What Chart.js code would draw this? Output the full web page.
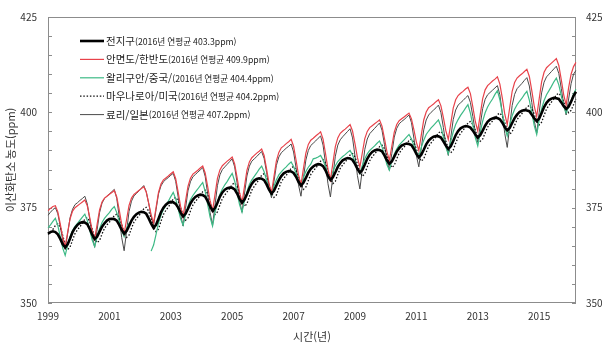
<!DOCTYPE html>
<html lang="ko">
<head>
<meta charset="utf-8">
<title>이산화탄소 농도</title>
<script src="https://cdn.jsdelivr.net/npm/chart.js"></script>
<style>
  html, body { margin: 0; padding: 0; background: #fff; }
  canvas { display: block; }
</style>
</head>
<body>
<canvas id="co2" width="605" height="348"></canvas>
<script>
// monthly means, Jan 1999 - Dec 2016 (ppm)
var globalAvg = [
  368.2, 368.6, 368.8, 368.6, 368.0, 366.8, 365.4, 364.6, 365.4, 366.9, 368.6, 369.7,
  370.5, 371.0, 371.2, 371.1, 370.7, 369.4, 367.9, 366.8, 367.4, 368.7, 370.0, 370.9,
  371.6, 372.0, 372.1, 372.0, 371.6, 370.5, 369.2, 368.2, 368.9, 370.2, 371.6, 372.6,
  373.3, 373.7, 373.9, 373.8, 373.4, 372.2, 370.8, 369.7, 370.5, 372.1, 373.8, 375.0,
  375.8, 376.3, 376.5, 376.4, 376.0, 375.0, 373.7, 372.7, 373.4, 374.7, 376.1, 377.1,
  377.8, 378.2, 378.4, 378.3, 377.9, 376.7, 375.3, 374.2, 374.9, 376.3, 377.9, 379.0,
  379.7, 380.1, 380.3, 380.2, 379.8, 378.7, 377.3, 376.3, 377.1, 378.5, 380.1, 381.3,
  382.1, 382.5, 382.7, 382.6, 382.2, 381.1, 379.7, 378.7, 379.4, 380.8, 382.2, 383.3,
  384.0, 384.4, 384.6, 384.5, 384.1, 383.1, 381.8, 380.8, 381.5, 382.8, 384.2, 385.2,
  385.8, 386.2, 386.4, 386.3, 385.9, 384.8, 383.3, 382.3, 383.0, 384.3, 385.7, 386.7,
  387.4, 387.8, 388.0, 387.9, 387.5, 386.5, 385.2, 384.2, 384.9, 386.3, 387.8, 388.9,
  389.6, 390.0, 390.2, 390.1, 389.8, 388.7, 387.4, 386.5, 387.1, 388.4, 389.7, 390.6,
  391.3, 391.6, 391.8, 391.7, 391.4, 390.4, 389.1, 388.2, 388.9, 390.2, 391.6, 392.6,
  393.2, 393.6, 393.8, 393.7, 393.4, 392.4, 391.3, 390.4, 391.1, 392.5, 394.0, 395.1,
  395.8, 396.2, 396.4, 396.3, 396.0, 395.2, 394.2, 393.4, 394.0, 395.2, 396.5, 397.5,
  398.1, 398.4, 398.6, 398.5, 398.2, 397.3, 396.1, 395.3, 395.9, 397.2, 398.5, 399.4,
  400.1, 400.4, 400.6, 400.5, 400.3, 399.4, 398.4, 397.7, 398.4, 399.8, 401.4, 402.5,
  403.2, 403.6, 403.8, 403.7, 403.5, 402.6, 401.6, 400.9, 401.5, 402.8, 404.3, 405.4
];
var anmyeon = [
  374.2, 374.8, 375.3, 375.5, 373.9, 370.7, 367.2, 364.8, 368.5, 372.1, 374.1, 375.0,
  375.5, 376.0, 376.5, 377.0, 375.5, 372.4, 369.0, 366.8, 370.6, 374.4, 376.5, 377.5,
  378.0, 378.5, 379.0, 379.5, 377.8, 374.4, 370.7, 368.2, 371.9, 375.6, 377.5, 378.5,
  379.0, 379.5, 380.0, 380.5, 379.1, 376.2, 373.1, 371.0, 375.0, 379.0, 381.2, 382.3,
  382.8, 383.3, 383.9, 384.4, 382.6, 379.1, 375.3, 372.7, 376.7, 380.6, 382.7, 383.8,
  384.3, 384.8, 385.4, 385.9, 384.1, 380.6, 376.8, 374.2, 378.4, 382.7, 384.9, 386.0,
  386.6, 387.2, 387.7, 388.3, 386.5, 382.9, 379.0, 376.3, 380.5, 384.8, 387.0, 388.1,
  388.7, 389.3, 389.8, 390.4, 388.7, 385.2, 381.4, 378.9, 383.1, 387.3, 389.5, 390.7,
  391.2, 391.8, 392.3, 392.9, 391.1, 387.5, 383.6, 381.0, 385.2, 389.3, 391.6, 392.7,
  393.2, 393.8, 394.3, 394.9, 393.0, 389.2, 385.1, 382.3, 386.7, 391.0, 393.3, 394.5,
  395.1, 395.6, 396.2, 396.8, 395.1, 391.8, 388.1, 385.7, 389.4, 393.1, 395.0, 396.0,
  396.5, 397.0, 397.5, 398.0, 396.4, 393.2, 389.7, 387.4, 391.1, 394.8, 396.8, 397.8,
  398.3, 398.8, 399.3, 399.8, 398.3, 395.4, 392.2, 390.0, 394.0, 398.0, 400.1, 401.2,
  401.7, 402.2, 402.8, 403.3, 401.7, 398.6, 395.2, 392.9, 397.0, 401.1, 403.3, 404.4,
  405.0, 405.5, 406.1, 406.6, 404.9, 401.4, 397.6, 395.1, 399.4, 403.6, 405.9, 407.0,
  407.6, 408.2, 408.7, 409.3, 407.4, 403.7, 399.5, 396.8, 401.2, 405.5, 407.8, 409.0,
  409.6, 410.1, 410.7, 411.3, 409.4, 405.7, 401.6, 398.9, 403.5, 408.0, 410.5, 411.7,
  412.3, 412.9, 413.5, 414.1, 412.3, 408.6, 404.6, 401.9, 406.5, 410.0, 412.0, 413.1
];
var waliguan = [
  369.7, 370.5, 371.4, 372.2, 370.3, 367.4, 364.4, 362.5, 365.2, 367.4, 369.0, 370.1,
  370.9, 371.7, 372.5, 373.3, 371.6, 369.1, 366.5, 364.8, 367.4, 369.5, 371.1, 372.2,
  373.0, 373.7, 374.6, 375.3, 373.7, 371.4, 369.0, 367.4, 369.5, 371.0, null, null,
  null, null, null, null, null, null, 363.6, 365.2, 368.0, 371.0, 373.0, 374.5,
  375.6, 376.7, 377.9, 379.0, 377.3, 374.7, 372.1, 370.4, 373.2, 375.4, 377.1, 378.2,
  379.1, 379.9, 380.8, 381.6, 379.3, 375.9, 372.5, 370.2, 373.7, 376.4, 378.5, 379.9,
  381.0, 381.9, 383.0, 384.0, 382.0, 378.9, 375.8, 373.8, 376.8, 379.2, 381.1, 382.3,
  383.2, 384.1, 385.1, 385.9, 384.4, 382.2, 379.9, 378.4, 380.6, 382.3, 383.6, 384.4,
  385.1, 385.7, 386.4, 387.0, 385.8, 384.0, 382.2, 381.0, 382.9, 384.5, 385.6, 386.4,
  387.8, 388.0, 388.3, 388.7, 387.5, 385.7, 383.9, 382.7, 384.5, 386.0, 387.1, 387.8,
  388.4, 388.9, 389.5, 390.0, 388.8, 387.0, 385.2, 384.0, 386.1, 387.8, 389.1, 390.0,
  390.6, 391.2, 391.9, 392.5, 391.0, 388.7, 386.3, 384.8, 387.2, 389.0, 390.4, 391.4,
  392.1, 392.8, 393.5, 394.2, 393.0, 391.3, 389.6, 388.4, 390.8, 392.7, 394.2, 395.1,
  395.9, 396.6, 397.3, 398.0, 396.2, 393.6, 390.9, 389.1, 392.3, 394.9, 396.8, 398.1,
  399.2, 400.1, 401.1, 402.0, 399.8, 396.6, 393.4, 391.2, 394.8, 397.7, 399.9, 401.4,
  402.5, 403.5, 404.7, 405.7, 403.3, 399.8, 396.2, 393.8, 396.7, 399.1, 400.8, 402.0,
  402.9, 403.7, 404.7, 405.5, 403.2, 399.9, 396.5, 394.2, 397.9, 400.9, 403.1, 404.6,
  405.7, 406.8, 408.0, 409.0, 407.2, 404.4, 401.6, 399.8, 401.5, 403.0, 404.8, 406.1
];
var maunaLoa = [
  368.0, 368.6, 369.3, 370.3, 370.8, 369.8, 367.7, 365.4, 364.0, 364.7, 366.5, 368.2,
  369.2, 370.0, 370.9, 372.0, 372.4, 371.4, 369.4, 367.1, 365.8, 366.4, 368.1, 369.6,
  370.5, 371.2, 372.0, 372.9, 373.3, 372.4, 370.6, 368.4, 367.2, 367.8, 369.6, 371.2,
  372.1, 372.9, 373.7, 374.7, 375.1, 374.1, 372.2, 370.0, 368.7, 369.4, 371.4, 373.2,
  374.3, 375.2, 376.1, 377.3, 377.7, 376.8, 375.0, 372.9, 371.7, 372.3, 374.1, 375.7,
  376.6, 377.4, 378.2, 379.2, 379.6, 378.6, 376.7, 374.5, 373.2, 373.9, 375.7, 377.4,
  378.3, 379.2, 380.0, 381.1, 381.5, 380.6, 378.7, 376.5, 375.3, 376.0, 377.9, 379.6,
  380.6, 381.5, 382.4, 383.5, 383.9, 383.0, 381.1, 378.9, 377.7, 378.3, 380.1, 381.8,
  382.7, 383.5, 384.3, 385.4, 385.8, 384.9, 383.1, 381.0, 379.8, 380.4, 382.1, 383.7,
  384.6, 385.4, 386.2, 387.2, 387.6, 386.7, 384.8, 382.6, 381.3, 381.9, 383.7, 385.3,
  386.2, 387.0, 387.8, 388.8, 389.2, 388.3, 386.5, 384.4, 383.2, 383.9, 385.7, 387.3,
  388.3, 389.1, 389.9, 391.0, 391.4, 390.5, 388.7, 386.7, 385.5, 386.1, 387.8, 389.3,
  390.2, 390.9, 391.7, 392.6, 393.0, 392.1, 390.4, 388.4, 387.2, 387.8, 389.5, 391.1,
  392.0, 392.8, 393.6, 394.6, 395.0, 394.2, 392.5, 390.5, 389.4, 390.1, 391.9, 393.5,
  394.5, 395.3, 396.1, 397.2, 397.6, 396.8, 395.3, 393.4, 392.4, 393.0, 394.6, 396.1,
  397.0, 397.7, 398.5, 399.4, 399.8, 399.0, 397.3, 395.4, 394.3, 394.9, 396.6, 398.1,
  398.9, 399.7, 400.5, 401.4, 401.8, 401.0, 399.5, 397.7, 396.7, 397.4, 399.2, 400.9,
  401.8, 402.7, 403.5, 404.6, 405.0, 404.2, 402.7, 400.9, 399.9, 400.5, 402.0, 403.5
];
var ryori = [
  373.0, 373.8, 374.5, 375.0, 373.4, 370.1, 366.4, 364.0, 368.2, 372.4, 374.6, 375.8,
  376.3, 376.9, 377.4, 378.0, 376.0, 372.0, 367.5, 364.6, 369.2, 373.7, 376.2, 377.4,
  378.0, 378.6, 379.2, 379.8, 377.4, 372.6, 367.2, 363.7, 368.8, 374.0, 376.7, 378.1,
  378.7, 379.4, 380.1, 380.8, 379.2, 376.1, 372.7, 370.4, 374.5, 378.6, 380.7, 381.8,
  382.4, 382.9, 383.5, 384.0, 381.9, 377.8, 373.2, 370.2, 374.8, 379.4, 381.8, 383.1,
  383.7, 384.3, 384.9, 385.5, 383.2, 378.7, 373.7, 370.4, 375.6, 380.8, 383.6, 385.0,
  385.7, 386.4, 387.1, 387.8, 385.7, 381.5, 376.9, 373.8, 378.6, 383.3, 385.9, 387.2,
  387.8, 388.4, 389.1, 389.7, 387.9, 384.3, 380.3, 377.6, 381.8, 386.1, 388.3, 389.4,
  390.0, 390.6, 391.1, 391.7, 389.6, 385.5, 381.0, 378.0, 382.7, 387.5, 390.0, 391.3,
  391.9, 392.5, 393.2, 393.8, 391.4, 386.6, 381.3, 377.8, 383.2, 388.5, 391.4, 392.8,
  393.6, 394.3, 395.0, 395.7, 393.3, 388.6, 383.4, 379.9, 385.1, 390.3, 393.0, 394.4,
  395.1, 395.8, 396.5, 397.2, 395.3, 391.6, 387.5, 384.8, 389.2, 393.5, 395.8, 397.0,
  397.6, 398.1, 398.7, 399.3, 397.3, 393.2, 388.7, 385.7, 390.6, 395.4, 398.0, 399.3,
  400.0, 400.6, 401.2, 401.9, 399.9, 396.0, 391.6, 388.7, 393.4, 398.1, 400.6, 401.9,
  402.5, 403.1, 403.8, 404.4, 402.6, 398.9, 394.8, 392.1, 396.6, 401.0, 403.4, 404.6,
  405.2, 405.8, 406.4, 407.0, 404.6, 399.7, 394.4, 390.8, 396.3, 401.8, 404.7, 406.2,
  406.9, 407.6, 408.4, 409.1, 406.9, 402.6, 397.8, 394.6, 399.9, 405.1, 407.9, 409.3,
  410.0, 410.7, 411.4, 412.1, 410.2, 406.3, 402.1, 399.3, 403.5, 407.5, 410.0, 411.0
];

var stationNames = ['전지구', '안면도/한반도', '왈리구안/중국/', '마우나로아/미국', '료리/일본'];
var annualNotes = ['(2016년 연평균 403.3ppm)', '(2016년 연평균 409.9ppm)', '(2016년 연평균 404.4ppm)',
                   '(2016년 연평균 404.2ppm)', '(2016년 연평균 407.2ppm)'];

var months = [];
for (var yr = 1999; yr <= 2016; yr++) {
  for (var m = 1; m <= 12; m++) months.push(yr + '.' + (m < 10 ? '0' + m : m));
}

var FONT = '"Noto Sans CJK KR", "Noto Sans", sans-serif';
Chart.defaults.font.family = FONT;
Chart.defaults.font.size = 10;
Chart.defaults.color = '#333';

// plot box with short inward tick marks
var frame = {
  id: 'frame',
  beforeDatasetsDraw: function (chart) {
    var ctx = chart.ctx, a = chart.chartArea;
    var x = chart.scales.x, y = chart.scales.y;
    ctx.save();
    ctx.strokeStyle = '#8c8c8c';
    ctx.lineWidth = 1;
    ctx.strokeRect(Math.round(a.left) + 0.5, Math.round(a.top) + 0.5,
                   Math.round(a.width) - 1, Math.round(a.height) - 1);
    ctx.beginPath();
    y.ticks.forEach(function (t) {
      var py = Math.round(y.getPixelForValue(t.value)) + 0.5;
      ctx.moveTo(a.left, py); ctx.lineTo(a.left + 4, py);
      ctx.moveTo(a.right, py); ctx.lineTo(a.right - 4, py);
    });
    x.ticks.forEach(function (t, i) {
      if (i % 25) return;
      var px = Math.round(x.getPixelForTick(i)) + 0.5;
      ctx.moveTo(px, a.bottom); ctx.lineTo(px, a.bottom - 4);
    });
    ctx.stroke();
    ctx.restore();
  }
};

// legend inside the plot, name and annual mean in two sizes
var stationLegend = {
  id: 'stationLegend',
  afterDatasetsDraw: function (chart) {
    var ctx = chart.ctx, a = chart.chartArea;
    chart.data.datasets.forEach(function (ds, i) {
      var ly = a.top + 24 + i * 18.4;
      var lx = a.left + 32;
      ctx.save();
      ctx.strokeStyle = ds.borderColor;
      ctx.lineWidth = ds.borderWidth;
      ctx.setLineDash(ds.borderDash || []);
      ctx.beginPath();
      ctx.moveTo(lx, ly);
      ctx.lineTo(lx + 24, ly);
      ctx.stroke();
      ctx.fillStyle = '#1e1e1e';
      ctx.textBaseline = 'middle';
      ctx.font = '10.5px ' + FONT;
      ctx.fillText(ds.label, lx + 26, ly);
      var w = ctx.measureText(ds.label).width;
      ctx.font = '8.7px ' + FONT;
      ctx.fillText(annualNotes[i], lx + 26 + w, ly + 0.5);
      ctx.restore();
    });
  }
};

function series(label, data, color, width, dash) {
  return {
    label: label,
    data: data,
    borderColor: color,
    backgroundColor: color,
    borderWidth: width,
    borderDash: dash,
    pointRadius: 0,
    tension: 0,
    fill: false
  };
}

new Chart('co2', {
  type: 'line',
  data: {
    labels: months,
    datasets: [
      series(stationNames[0], globalAvg, '#000000', 2.6),
      series(stationNames[1], anmyeon, '#e8424a', 1.2),
      series(stationNames[2], waliguan, '#3dba86', 1.2),
      series(stationNames[3], maunaLoa, '#111111', 1.3, [1.5, 1.8]),
      series(stationNames[4], ryori, '#4a4a4a', 1)
    ]
  },
  options: {
    responsive: false,
    animation: false,
    devicePixelRatio: 1,
    layout: { padding: { top: 9, left: 0, right: 0, bottom: 0 } },
    plugins: {
      legend: { display: false },
      tooltip: { enabled: false }
    },
    scales: {
      x: {
        grid: { display: false, drawTicks: false },
        border: { display: false },
        ticks: {
          autoSkip: false,
          maxRotation: 0,
          padding: 7,
          callback: function (v, i) { return i % 25 === 0 ? months[i].slice(0, 4) : null; }
        },
        title: { display: true, text: '시간(년)', font: { size: 11 }, padding: { top: 0, bottom: 5 } },
        afterFit: function (s) { s.height = 45; }
      },
      y: {
        position: 'left',
        min: 350, max: 425,
        grid: { display: false, drawTicks: false },
        border: { display: false },
        ticks: {
          stepSize: 5,
          padding: 11,
          autoSkip: false,
          callback: function (v) { return v % 25 === 0 ? v : ''; }
        },
        title: { display: true, text: '이산화탄소 농도(ppm)', font: { size: 11 }, padding: { top: 4, bottom: 0 } },
        afterFit: function (s) { s.width = 48; }
      },
      y2: {
        position: 'right',
        min: 350, max: 425,
        grid: { display: false, drawTicks: false },
        border: { display: false },
        ticks: {
          stepSize: 5,
          padding: 10,
          autoSkip: false,
          callback: function (v) { return v % 25 === 0 ? v : ''; }
        },
        afterFit: function (s) { s.width = 29; }
      }
    }
  },
  plugins: [frame, stationLegend]
});
</script>
</body>
</html>
